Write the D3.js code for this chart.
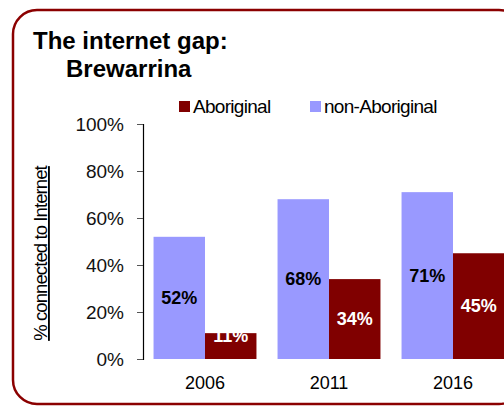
<!DOCTYPE html>
<html>
<head>
<meta charset="utf-8">
<script src="https://cdnjs.cloudflare.com/ajax/libs/d3/7.8.5/d3.min.js"></script>
<style>
  body { margin: 0; background: #fff; }
  svg { display: block; font-family: "Liberation Sans", Arial, sans-serif; }
</style>
</head>
<body>
<div id="chart"></div>
<script>
// chart data
const years = ['2006', '2011', '2016']
const seriesNames = ['non-Aboriginal', 'Aboriginal']
const nonAboriginal = [52, 68, 71]
const aboriginal = [11, 34, 45]
const yTicks = [0, 20, 40, 60, 80, 100]

const colors = { 'Aboriginal': '#800000', 'non-Aboriginal': '#9999ff' }

const width = 504, height = 406

const svg = d3.select('#chart').append('svg')
  .attr('width', width)
  .attr('height', height)

// rounded frame
svg.append('rect')
  .attr('x', 13).attr('y', 10)
  .attr('width', 510).attr('height', 394)
  .attr('rx', 24).attr('ry', 24)
  .attr('fill', 'none')
  .attr('stroke', '#8b0000')
  .attr('stroke-width', 2.5)

// title
svg.append('text').attr('x', 33).attr('y', 49)
  .attr('font-size', 24).attr('font-weight', 'bold')
  .text('The internet gap:')
svg.append('text').attr('x', 66).attr('y', 77)
  .attr('font-size', 24).attr('font-weight', 'bold')
  .text('Brewarrina')

// scales
const x = d3.scaleBand()
  .domain(years)
  .range([143, 515])
  .paddingInner(0.17)
  .paddingOuter(0.085)

const xSub = d3.scaleBand()
  .domain(seriesNames)
  .range([0, x.bandwidth()])

const y = d3.scaleLinear().domain([0, 100]).range([359, 124])

// y axis
const yAxis = svg.append('g')
  .attr('transform', 'translate(143,0)')
  .call(d3.axisLeft(y).tickValues(yTicks).tickSize(6).tickPadding(13).tickFormat(d => d + '%'))
yAxis.select('.domain').attr('stroke', '#000').attr('stroke-width', 1.2)
yAxis.selectAll('.tick line').attr('stroke', '#555')
yAxis.selectAll('.tick text')
  .attr('font-size', 19)
  .attr('font-family', '"Liberation Sans", Arial, sans-serif')
  .attr('fill', '#111')

// y axis title
svg.append('text')
  .attr('transform', 'translate(47,' + ((160 + 347) / 2) + ') rotate(-90)')
  .attr('text-anchor', 'middle')
  .attr('font-size', 18.5)
  .attr('text-decoration', 'underline')
  .attr('letter-spacing', -0.9)
  .text('% connected to Internet')

// bars
const rows = years.map((yr, i) => ({
  year: yr,
  values: [
    { key: 'non-Aboriginal', value: nonAboriginal[i] },
    { key: 'Aboriginal', value: aboriginal[i] }
  ]
}))

const groups = svg.append('g').selectAll('g')
  .data(rows)
  .enter()
  .append('g')
  .attr('transform', d => 'translate(' + x(d.year) + ',0)')

groups.selectAll('rect')
  .data(d => d.values)
  .enter()
  .append('rect')
  .attr('x', d => xSub(d.key))
  .attr('y', d => y(d.value))
  .attr('width', xSub.bandwidth())
  .attr('height', d => y(0) - y(d.value))
  .attr('fill', d => colors[d.key])

// value labels
groups.selectAll('text.val')
  .data(d => d.values)
  .enter()
  .append('text')
  .attr('class', 'val')
  .attr('x', d => xSub(d.key) + xSub.bandwidth() / 2)
  .attr('y', d => Math.min((y(d.value) + y(0)) / 2, y(0) - 23))
  .attr('dy', '0.35em')
  .attr('text-anchor', 'middle')
  .attr('font-size', 18)
  .attr('font-weight', 'bold')
  .attr('fill', d => d.key === 'Aboriginal' ? '#fff' : '#000')
  .text(d => d.value + '%')

// category labels
svg.append('g').selectAll('text')
  .data(years)
  .enter()
  .append('text')
  .attr('x', d => x(d) + x.bandwidth() / 2)
  .attr('y', 389)
  .attr('text-anchor', 'middle')
  .attr('font-size', 18)
  .text(d => d)

// legend
const legendItems = [
  { key: 'Aboriginal', x: 179 },
  { key: 'non-Aboriginal', x: 310 }
]
const legend = svg.append('g').selectAll('g')
  .data(legendItems)
  .enter()
  .append('g')
  .attr('transform', d => 'translate(' + d.x + ',101)')
legend.append('rect')
  .attr('width', 11).attr('height', 11)
  .attr('fill', d => colors[d.key])
legend.append('text')
  .attr('x', 14).attr('y', 11.5)
  .attr('font-size', 19)
  .attr('letter-spacing', -0.7)
  .text(d => d.key)
</script>
</body>
</html>
